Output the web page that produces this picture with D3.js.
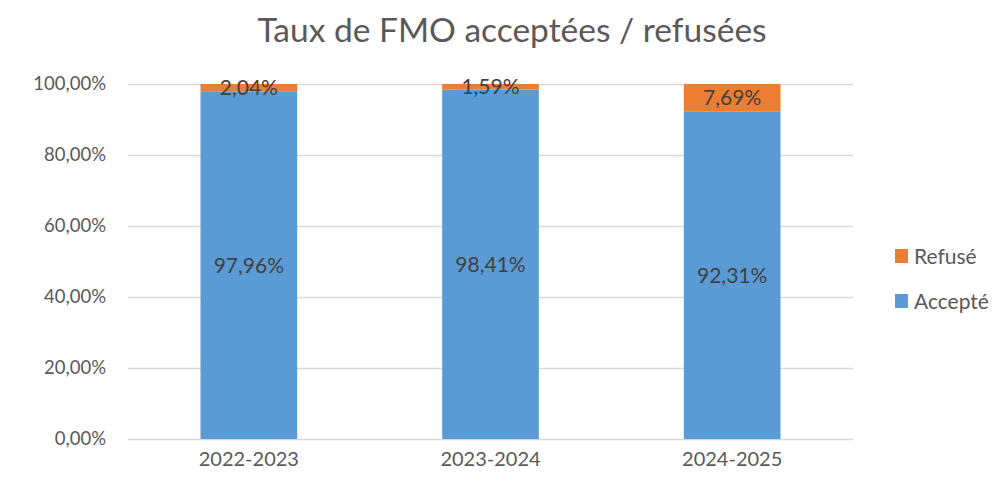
<!DOCTYPE html>
<html><head><meta charset="utf-8">
<script src="https://cdn.jsdelivr.net/npm/d3@7"></script>
<style>body{margin:0;background:#fff}svg{display:block}</style>
</head><body><svg id="c" width="994" height="481"></svg>
<script>
const categories = ["2022-2023","2023-2024","2024-2025"];
const accepte = [97.96, 98.41, 92.31];
const refuse = [2.04, 1.59, 7.69];
const seriesNames = ["Accepté","Refusé"];
const yTicks = [0,20,40,60,80,100];
const colors = {"Accepté":"#5B9BD5","Refusé":"#ED7D31"};
const font = "Lato, 'Open Sans', sans-serif";

const svg = d3.select("#c");
const m = {l:128, r:141, t:84, b:42};
const W = 994, H = 481;
const x = d3.scaleBand().domain(categories).range([m.l, W-m.r]).paddingInner(0.6).paddingOuter(0.3);
const y = d3.scaleLinear().domain([0,100]).range([H-m.b, m.t]);
const fmt = v => v.toFixed(2).replace(".", ",") + "%";

svg.append("text").attr("x",512).attr("y",42).attr("text-anchor","middle")
  .attr("font-family",font).attr("font-size",33.5).attr("fill","#595959").text("Taux de FMO acceptées / refusées");

const yAxis = d3.axisLeft(y).tickValues(yTicks).tickSize(-(W-m.r-m.l)).tickFormat(d=>fmt(d));
const ga = svg.append("g").attr("transform",`translate(${m.l},0)`).call(yAxis);
ga.select(".domain").remove();
ga.selectAll(".tick line").attr("stroke","#D9D9D9").attr("stroke-width",1.3);
ga.selectAll(".tick text").attr("x",-22).attr("font-family",font).attr("font-size",18.5).attr("fill","#595959");

const xAxis = d3.axisBottom(x).tickSize(0);
const gx = svg.append("g").attr("transform",`translate(0,${H-m.b})`).call(xAxis);
gx.select(".domain").remove();
gx.selectAll(".tick text").attr("dy",24).attr("font-family",font).attr("font-size",20).attr("fill","#595959");

const data = categories.map((c,i)=>({cat:c,"Accepté":accepte[i],"Refusé":refuse[i]}));
const stack = d3.stack().keys(seriesNames)(data);
stack.forEach(s=>{
  const g = svg.append("g");
  g.selectAll("rect").data(s).join("rect")
    .attr("x",d=>x(d.data.cat)).attr("width",x.bandwidth())
    .attr("y",d=>y(d[1])).attr("height",d=>y(d[0])-y(d[1]))
    .attr("fill",colors[s.key]);
});
stack.forEach(s=>{
  svg.append("g").selectAll("text").data(s).join("text")
    .attr("x",d=>x(d.data.cat)+x.bandwidth()/2)
    .attr("y",d=>(y(d[0])+y(d[1]))/2)
    .attr("dy","0.36em")
    .attr("text-anchor","middle").attr("font-family",font).attr("font-size",21).attr("fill","#404040")
    .text(d=>fmt(d[1]-d[0]));
});

const legend = [["Refusé",256],["Accepté",301]];
legend.forEach(([k,cy])=>{
  svg.append("rect").attr("x",895).attr("y",cy-7).attr("width",13).attr("height",14).attr("fill",colors[k]);
  svg.append("text").attr("x",914).attr("y",cy).attr("dy","0.36em").attr("font-family",font).attr("font-size",21).attr("fill","#595959").text(k);
});
</script></body></html>
